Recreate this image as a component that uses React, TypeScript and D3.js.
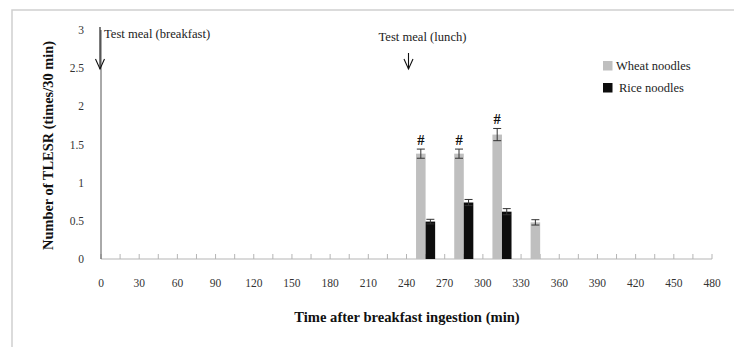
import React from "react";
import * as d3 from "d3";

const times = [255, 285, 315, 345];
const wheat = [1.38, 1.38, 1.63, 0.48];
const wheatErr = [0.06, 0.06, 0.08, 0.035];
const rice = [0.49, 0.74, 0.62, null];
const riceErr = [0.03, 0.04, 0.04, null];
const marked = [true, true, true, false];
const xTickLabels = [0, 30, 60, 90, 120, 150, 180, 210, 240, 270, 300, 330, 360, 390, 420, 450, 480];
const xMinorTicks = d3.range(0, 481, 15);
const yTickLabels = [0, 0.5, 1, 1.5, 2, 2.5, 3];
const meals = [
  { t: 0, label: "Test meal (breakfast)" },
  { t: 240, label: "Test meal (lunch)" },
];
const legend = [
  { name: "Wheat noodles", color: "#bfbfbf" },
  { name: "Rice noodles", color: "#0d0d0d" },
];

const W = 734, H = 347;
const font = "'Liberation Serif', 'Times New Roman', serif";

export default function App() {
  const x = d3.scaleLinear().domain([0, 480]).range([101, 712]);
  const y = d3.scaleLinear().domain([0, 3]).range([259, 30]);
  const bw = x(7.5) - x(0);

  const errBar = (cx: number, v: number, e: number, key: string) => (
    <g key={key} stroke="#333" strokeWidth={1}>
      <line x1={cx} x2={cx} y1={y(v + e)} y2={y(v - e)} />
      <line x1={cx - 4} x2={cx + 4} y1={y(v + e)} y2={y(v + e)} />
      <line x1={cx - 4} x2={cx + 4} y1={y(v - e)} y2={y(v - e)} />
    </g>
  );

  return (
    <svg width={W} height={H} style={{ position: "absolute", left: 0, top: 0, background: "#fff" }} fontFamily={font}>
      <rect x={12} y={10} width={740} height={360} fill="none" stroke="#cfcfcf" strokeWidth={1.5} />

      {/* x axis */}
      <line x1={x(0)} x2={x(480)} y1={y(0)} y2={y(0)} stroke="#b5b5b5" />
      {xMinorTicks.map((t) => (
        <line key={t} x1={x(t)} x2={x(t)} y1={y(0)} y2={y(0) - 5} stroke="#b5b5b5" />
      ))}
      {xTickLabels.map((t) => (
        <text key={t} x={x(t)} y={287} textAnchor="middle" fontSize={11.5} fill="#333">{t}</text>
      ))}

      {/* y axis */}
      <line x1={x(0)} x2={x(0)} y1={y(3)} y2={y(0)} stroke="#555" />
      {yTickLabels.map((v) => (
        <text key={v} x={84} y={y(v) + 4} textAnchor="end" fontSize={11.5} fill="#333">{v}</text>
      ))}

      {/* bars */}
      {times.map((t, i) => (
        <g key={t}>
          <rect x={x(t) - bw} y={y(wheat[i])} width={bw} height={y(0) - y(wheat[i])} fill="#bfbfbf" />
          {rice[i] != null && (
            <rect x={x(t)} y={y(rice[i] as number)} width={bw} height={y(0) - y(rice[i] as number)} fill="#0d0d0d" />
          )}
        </g>
      ))}
      {times.map((t, i) => errBar(x(t) - bw / 2, wheat[i], wheatErr[i], "w" + t))}
      {times.map((t, i) =>
        rice[i] != null ? errBar(x(t) + bw / 2, rice[i] as number, riceErr[i] as number, "r" + t) : null
      )}
      {times.map((t, i) =>
        marked[i] ? (
          <text key={"m" + t} x={x(t) - bw / 2} y={y(wheat[i] + wheatErr[i]) - 4} textAnchor="middle" fontSize={14.5} fontWeight="bold" fill="#111">#</text>
        ) : null
      )}

      {/* meal arrows */}
      {meals.map((m, i) => {
        const ax = x(m.t) + (i === 0 ? -1 : 2);
        const top = i === 0 ? 27 : 53;
        const tip = 69;
        return (
          <g key={m.label} stroke="#111" fill="none" strokeWidth={1.1}>
            <line x1={ax} x2={ax} y1={top} y2={tip} />
            <polyline points={`${ax - 4.5},${tip - 10} ${ax},${tip} ${ax + 4.5},${tip - 10}`} />
            <text
              x={i === 0 ? ax + 4 : ax + 14}
              y={i === 0 ? 38 : 41}
              textAnchor={i === 0 ? "start" : "middle"}
              fontSize={12.6}
              fill="#222"
              stroke="none"
            >
              {m.label}
            </text>
          </g>
        );
      })}

      {/* legend */}
      {legend.map((l, i) => (
        <g key={l.name} transform={`translate(603,${61 + i * 22})`}>
          <rect width={9.5} height={9.5} fill={l.color} />
          <text x={i === 0 ? 13 : 16} y={9} fontSize={12.5} fill="#222">{l.name}</text>
        </g>
      ))}

      {/* titles */}
      <text x={407} y={322} textAnchor="middle" fontSize={14.6} fontWeight="bold" fill="#111">
        Time after breakfast ingestion (min)
      </text>
      <text
        transform={`translate(53,145.5) rotate(-90)`}
        textAnchor="middle"
        fontSize={14.4}
        fontWeight="bold"
        fill="#111"
      >
        Number of TLESR (times/30 min)
      </text>
    </svg>
  );
}
